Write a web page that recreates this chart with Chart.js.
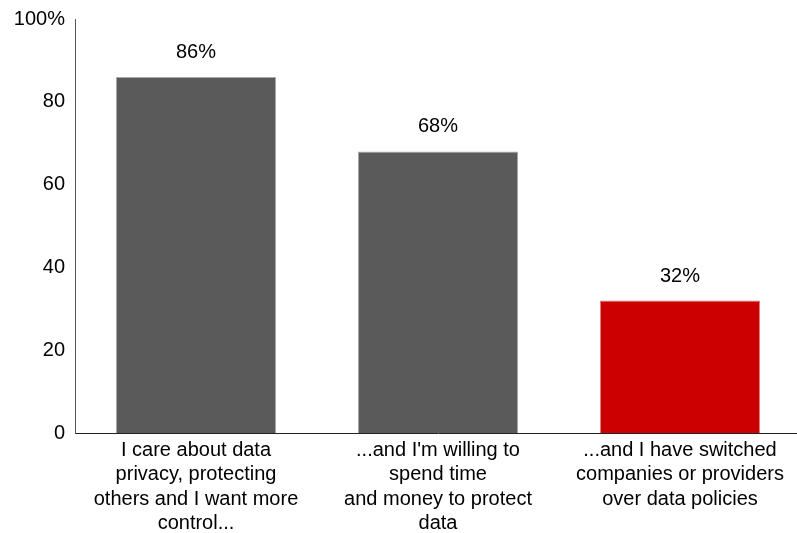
<!DOCTYPE html>
<html>
<head>
    <meta charset="UTF-8">
    <title>Data privacy attitudes</title>
    <script src="https://cdn.jsdelivr.net/npm/chart.js@4.4.1/dist/chart.umd.min.js"></script>
    <style>
        html, body { margin: 0; padding: 0; background: #fff; overflow: hidden; }
        #wrap { width: 801px; height: 533px; }
    </style>
</head>
<body>
    <div id="wrap"><canvas id="myChart"></canvas></div>
    <script>
        var categories = [
            ['I care about data', 'privacy, protecting', 'others and I want more', 'control...'],
            ['...and I\'m willing to', 'spend time', 'and money to protect', 'data'],
            ['...and I have switched', 'companies or providers', 'over data policies']
        ];
        var values = [86, 68, 32];
        var barColors = ['#5a5a5a', '#5a5a5a', '#cc0000'];
        var edgeColors = ['#a8a8a8', '#a8a8a8', '#e27a7a'];
        var yTicks = [0, 20, 40, 60, 80, 100];

        Chart.defaults.font.family = '"Liberation Sans", Arial, sans-serif';
        Chart.defaults.color = '#000';

        // writes "NN%" above each bar
        var valueLabels = {
            id: 'valueLabels',
            afterDatasetsDraw: function(chart) {
                var ctx = chart.ctx;
                var meta = chart.getDatasetMeta(0);
                ctx.save();
                ctx.font = '20px "Liberation Sans", Arial, sans-serif';
                ctx.fillStyle = '#000';
                ctx.textAlign = 'center';
                ctx.textBaseline = 'alphabetic';
                meta.data.forEach(function(bar, i) {
                    ctx.fillText(values[i] + '%', bar.x, bar.y - 19);
                });
                ctx.restore();
            }
        };

        var myChart = new Chart('myChart', {
            type: 'bar',
            data: {
                labels: categories,
                datasets: [{
                    data: values,
                    backgroundColor: barColors,
                    borderColor: edgeColors,
                    borderWidth: 1,
                    categoryPercentage: 1,
                    barPercentage: 0.662
                }]
            },
            options: {
                responsive: true,
                maintainAspectRatio: false,
                animation: false,
                layout: { padding: { top: 19, right: 0, left: 0, bottom: 0 } },
                plugins: {
                    legend: { display: false },
                    tooltip: { enabled: false }
                },
                scales: {
                    x: {
                        grid: { display: false, drawTicks: false },
                        border: { display: true, color: '#222', width: 1 },
                        ticks: {
                            maxRotation: 0,
                            autoSkip: false,
                            padding: 5,
                            font: { size: 20, lineHeight: 1.22 }
                        },
                        afterFit: function(scale) { scale.height = 100; }
                    },
                    y: {
                        min: 0,
                        max: 100,
                        grid: { display: false, drawTicks: false },
                        border: { display: true, color: '#555', width: 1 },
                        afterBuildTicks: function(scale) {
                            scale.ticks = yTicks.map(function(v) { return { value: v }; });
                        },
                        ticks: {
                            padding: 10,
                            font: { size: 20 },
                            callback: function(v) { return v === 100 ? '100%' : v; }
                        },
                        afterFit: function(scale) {
                            scale.width = 75;
                            scale.paddingTop = 0;
                        }
                    }
                }
            },
            plugins: [valueLabels]
        });
    </script>
</body>
</html>
